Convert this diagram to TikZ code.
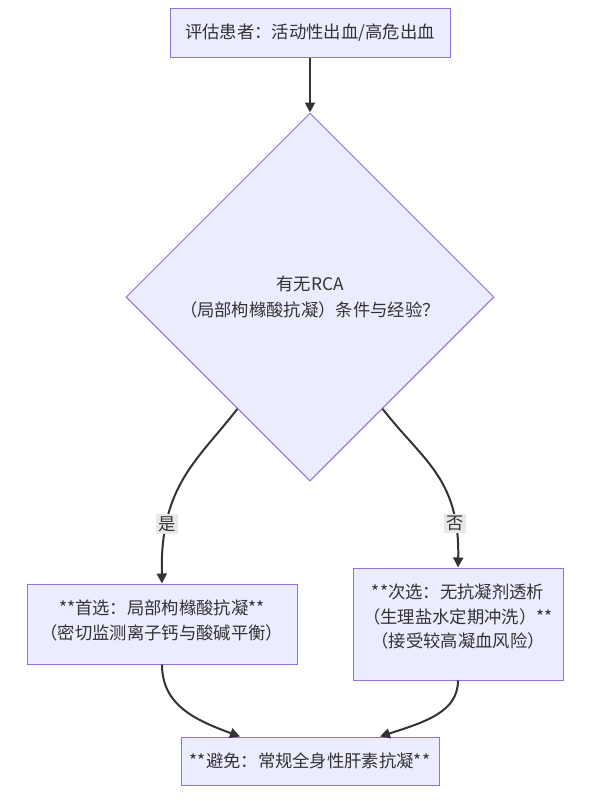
\documentclass[tikz,border=0pt]{standalone}
\usepackage{fontspec}
\setmainfont{Noto Sans CJK SC}
\usetikzlibrary{shapes.geometric,arrows.meta}
\definecolor{boxfill}{HTML}{ECECFF}
\definecolor{boxline}{HTML}{9370DB}
\definecolor{edgeline}{HTML}{333333}
\definecolor{labelbg}{HTML}{E8E8E8}
\begin{document}
\begin{tikzpicture}[x=0.75pt,y=-0.75pt,
  box/.style={draw=boxline,fill=boxfill,line width=0.75pt,align=center,text=edgeline,
    font=\fontsize{13pt}{18.5pt}\selectfont,inner sep=0pt},
  choice/.style={box,diamond,aspect=1,minimum width=276pt,minimum height=276pt},
  flow/.style={draw=edgeline,line width=1.5pt,-{Triangle[length=7.5pt,width=7.5pt]}},
  tag/.style={fill=labelbg,text=edgeline,font=\fontsize{13pt}{15pt}\selectfont,inner sep=1.5pt}]
  \useasboundingbox (0,0) rectangle (591,801);
  \node[box,minimum width=210pt,minimum height=36.75pt] (assess) at (310,33)
    {评估患者：活动性出血/高危出血};
  \node[choice] (rca) at (310,297)
    {有无RCA\\[1.5pt]（局部枸橼酸抗凝）条件与经验？};
  \node[box,minimum width=202.5pt,minimum height=60pt] (first) at (162,624)
    {**首选：局部枸橼酸抗凝**\\（密切监测离子钙与酸碱平衡）\rule[-6.5pt]{0pt}{0pt}};
  \node[box,minimum width=157.5pt,minimum height=84pt] (second) at (458,624)
    {**次选：无抗凝剂透析\\（生理盐水定期冲洗）**\\（接受较高凝血风险）\rule[-12.5pt]{0pt}{0pt}};
  \node[box,minimum width=193.5pt,minimum height=36pt] (avoid) at (310,761)
    {**避免：常规全身性肝素抗凝**};
  \draw[flow] (assess.south) -- (rca.north);
  \draw[flow] (rca.237) .. controls (198,460) and (160,485) .. (first.north)
    node[tag,pos=0.76] (yes) {是};
  \draw[flow] (rca.303) .. controls (422,460) and (460,478) .. (second.north)
    node[tag,pos=0.81] (no) {否};
  \draw[flow] (first.south) .. controls (162,705) and (195,720) .. ([xshift=-52.5pt]avoid.north);
  \draw[flow] (second.south) .. controls (458,712) and (425,722) .. ([xshift=52.5pt]avoid.north);
\end{tikzpicture}
\end{document}
